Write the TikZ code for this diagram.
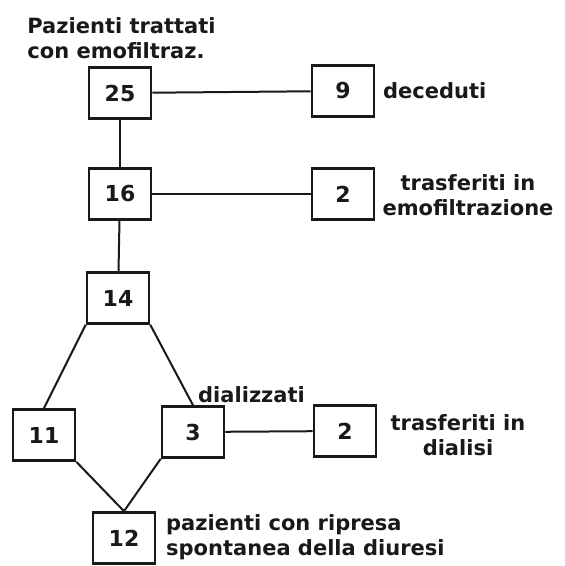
\documentclass[tikz,border=0pt]{standalone}
\usepackage{fontspec}
\setmainfont{DejaVu Sans}
\usepackage{tikz}

\begin{document}
\begin{tikzpicture}[x=10pt,y=10pt]
            % Define styles
            \tikzstyle{countbox} = [draw=black!90,line width=2.6pt,fill=white,shape=rectangle,minimum width=62pt,minimum height=51pt,inner sep=0,text=black!90,font=\fontsize{22}{22}\selectfont\bfseries]
            \tikzstyle{link} = [line width=2pt,draw=black!90,-]
            \tikzstyle{caption} = [inner sep=0,text=black!90,font=\fontsize{21}{25}\selectfont\bfseries]
            \useasboundingbox (0,0) rectangle (56.5,56.6);
            % Main column
            	\node (n25) at (12.0,47.3) [countbox]{25};
            	\node (n16) at (12.0,37.2) [countbox]{16};
            	\node (n14) at (11.8,26.8) [countbox]{14};
            % Split after 14
            	\node (n11) at (4.4,13.1) [countbox]{11};
            	\node (n3) at (19.3,13.4) [countbox]{3};
            	\node (n12) at (12.4,2.8) [countbox]{12};
            % Side boxes
            	\node (n9) at (34.3,47.5) [countbox]{9};
            	\node (n2e) at (34.3,37.2) [countbox]{2};
            	\node (n2d) at (34.5,13.5) [countbox]{2};
            % Captions
                \node (capTop) at (12.15,52.8) [caption,align=left]{Pazienti trattati\\con emofiltraz.};
                \node (capDec) at (38.3,47.5) [caption,anchor=west]{deceduti};
                \node (capEmo) at (46.8,37.1) [caption,align=center]{trasferiti in\\emofiltrazione};
                \node (capDial) at (19.8,17.1) [caption,anchor=west]{dializzati};
                \node (capDialisi) at (45.8,13.1) [caption,align=center]{trasferiti in\\dialisi};
                \node (capRip) at (16.6,2.9) [caption,anchor=west,align=left]{pazienti con ripresa\\spontanea della diuresi};
            % Connectors
                % Main column
                    \draw [link] (n25) -- (n16);
                    \draw [link] (n16) -- (n14);
                % To the side boxes
                    \draw [link] (n25) -- (n9);
                    \draw [link] (n16) -- (n2e);
                    \draw [link] (n3) -- (n2d);
                % Split and merge
                    \draw [link] (n14.south west) -- (n11.north);
                    \draw [link] (n14.south east) -- (n3.north);
                    \draw [link] (n11.south east) -- (n12.north);
                    \draw [link] (n3.south west) -- (n12.north);
        \end{tikzpicture}
\end{document}
